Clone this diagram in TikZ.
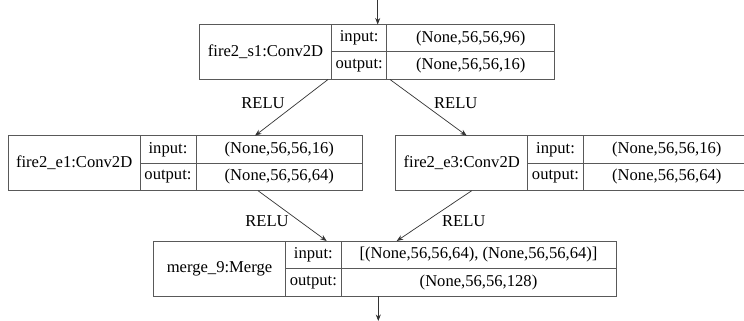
\documentclass[tikz,border=0pt]{standalone}
\usepackage{fontspec}
\setmainfont{Liberation Serif}
\usetikzlibrary{arrows.meta,calc}
\begin{document}
\begin{tikzpicture}[x=1pt,y=-1pt,
  every node/.style={font=\fontsize{16.6}{20}\selectfont, text=black},
  cell/.style={draw=black!65, line width=1pt, inner sep=0pt, outer sep=0pt,
    anchor=north west, minimum height=#1},
  cell/.default=27.5pt,
  namecell/.style={cell=55pt},
  relu/.style={inner sep=0pt},
  flow/.style={draw=black!80, line width=0.7pt, -{Stealth[length=6.5pt,width=5pt]}}]
\clip (0,0) rectangle (744,321);
\fill[white] (0,0) rectangle (744,321);

% fire2_s1
\node[namecell, minimum width=132.4pt] (s1) at (199.3,24.5) {fire2\_s1:Conv2D};
\node[cell, minimum width=55pt] (s1i) at (s1.north east) {input:};
\node[cell, minimum width=55pt] (s1o) at (s1i.south west) {output:};
\node[cell, minimum width=168pt] (s1iv) at (s1i.north east) {(None,56,56,96)};
\node[cell, minimum width=168pt] (s1ov) at (s1iv.south west) {(None,56,56,16)};

% fire2_e1
\node[namecell, minimum width=131.7pt] (e1) at (8.3,135.7) {fire2\_e1:Conv2D};
\node[cell, minimum width=56pt] (e1i) at (e1.north east) {input:};
\node[cell, minimum width=56pt] (e1o) at (e1i.south west) {output:};
\node[cell, minimum width=166.7pt] (e1iv) at (e1i.north east) {(None,56,56,16)};
\node[cell, minimum width=166.7pt] (e1ov) at (e1iv.south west) {(None,56,56,64)};

% fire2_e3
\node[namecell, minimum width=132pt] (e3) at (395.7,135.7) {fire2\_e3:Conv2D};
\node[cell, minimum width=55.6pt] (e3i) at (e3.north east) {input:};
\node[cell, minimum width=55.6pt] (e3o) at (e3i.south west) {output:};
\node[cell, minimum width=167pt] (e3iv) at (e3i.north east) {(None,56,56,16)};
\node[cell, minimum width=167pt] (e3ov) at (e3iv.south west) {(None,56,56,64)};

% merge_9
\node[namecell, minimum width=132.4pt] (m9) at (153.3,241) {merge\_9:Merge};
\node[cell, minimum width=55.3pt] (m9i) at (m9.north east) {input:};
\node[cell, minimum width=55.3pt] (m9o) at (m9i.south west) {output:};
\node[cell, minimum width=275pt] (m9iv) at (m9i.north east) {[(None,56,56,64), (None,56,56,64)]};
\node[cell, minimum width=275pt] (m9ov) at (m9iv.south west) {(None,56,56,128)};

% activation labels
\node[relu] (r1) at (263,103.3) {RELU};
\node[relu] (r2) at (455.8,103.3) {RELU};
\node[relu] (r3) at (267,220.7) {RELU};
\node[relu] (r4) at (463.8,220.7) {RELU};

% connectors
\coordinate (in) at (377.7,0);
\coordinate (out) at (378.3,321);
\draw[flow] (in) -- (in |- s1i.north);
\draw[flow] ($(s1.south east)+(-3.7,0)$) -- ($(e1iv.north west)+(59,0)$);
\draw[flow] ($(s1ov.south west)+(3.3,0)$) -- ($(e3.north west)+(71,0)$);
\draw[flow] ($(e1ov.south west)+(62,0)$) -- ($(m9i.north west)+(41,0)$);
\draw[flow] ($(e3.south west)+(76,0)$) -- ($(m9iv.north west)+(55.7,0)$);
\draw[flow] (out |- m9ov.south) -- (out);
\end{tikzpicture}
\end{document}
